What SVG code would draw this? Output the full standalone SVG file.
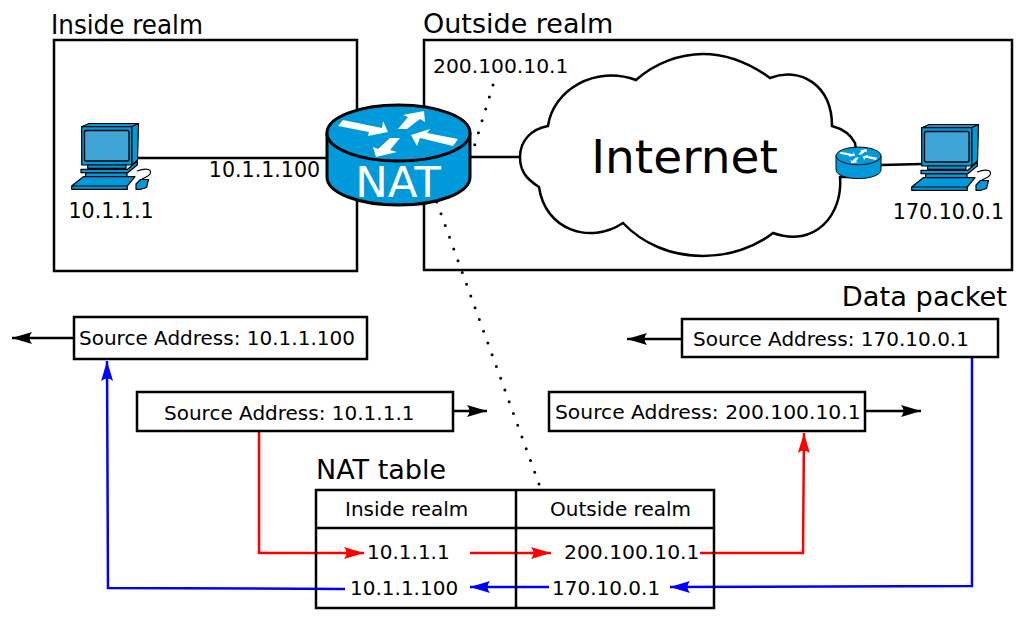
<svg xmlns="http://www.w3.org/2000/svg" width="1024" height="624" viewBox="0 0 1024 624">
<style>
text{font-family:"DejaVu Sans",sans-serif;fill:#000}
.h{font-size:27px}
.l{font-size:20px}
.w{font-size:20.300px}
.t{font-size:20.600px}
.box{fill:#fff;stroke:#000;stroke-width:2.500}
.c{fill:none;stroke-width:2.500}
.k{stroke:#000}.r{stroke:#f00}.b{stroke:#00f}
.dot{fill:none;stroke:#000;stroke-width:3;stroke-linecap:round;stroke-dasharray:0 12.500}
.blue{fill:#0099d9;stroke:#000;stroke-linejoin:round}
</style>
<defs>
<marker id="ak" markerUnits="userSpaceOnUse" markerWidth="24" markerHeight="16" refX="20" refY="8" orient="auto"><path d="M0 2L20 8L0 14Q5 8 0 2Z" fill="#000"/></marker>
<marker id="ar" markerUnits="userSpaceOnUse" markerWidth="24" markerHeight="16" refX="20" refY="8" orient="auto"><path d="M0 2L20 8L0 14Q5 8 0 2Z" fill="#f00"/></marker>
<marker id="ab" markerUnits="userSpaceOnUse" markerWidth="24" markerHeight="16" refX="20" refY="8" orient="auto"><path d="M0 2L20 8L0 14Q5 8 0 2Z" fill="#00f"/></marker>
<g id="pc" stroke-width="1.200">
<path d="M137 171C148 167 152 170 150 174C148 177 143 178 141 180" fill="none" stroke="#000" stroke-width="1.200"/>
<path class="blue" d="M81.700 126.700L89 123.500H138.500L131.700 126.700Z"/>
<path class="blue" d="M131.700 126.700L138.500 123.500L137.500 160L131.700 165Z"/>
<rect class="blue" x="81.700" y="126.700" width="50" height="38.300"/>
<rect x="84.500" y="130.500" width="44.500" height="30.500" rx="2" fill="#3fa5d6" stroke="#000" stroke-width="1.400"/>
<path class="blue" d="M87.700 165H126V168.300H87.700Z"/>
<path class="blue" d="M85.700 172.700H127V176.700H85.700Z"/>
<path class="blue" d="M81 169.300H127.700L137.300 161V165L127.700 172.700H81Z"/>
<path class="blue" d="M71.700 186L83.300 176.700H135L127.300 186V189.300H71.700Z"/>
<path class="blue" d="M71.700 186H127.300" fill="none"/>
<path class="blue" d="M136 189.300V184L140.500 179.500H148.500L146.500 187.500L141 189.300Z"/>
</g>
<g id="rt">
<path class="blue" d="M327 133V177C327 193 359 205 398.500 205C438 205 470 193 470 177V133Z"/>
<ellipse class="blue" cx="398.500" cy="133" rx="71.500" ry="28"/>
<g fill="#fff">
<path d="M343 120L382 128L383 121L388 132L368 136L369 132L338 126Z"/>
<path d="M398 129L408 117L403 115L424 111L425 122L420 119L407 129Z"/>
<path d="M458 139L453 146L420 138L417 146L411 135L430 129L427 133Z"/>
<path d="M400 138L390 150L397 152L376 157L373 147L378 149L390 138Z"/>
</g>
</g>
</defs>
<g id="realm-inside"><rect class="box" x="54" y="40" width="303" height="231"/><text class="h" x="51" y="34" textLength="152" lengthAdjust="spacingAndGlyphs">Inside realm</text></g>
<g id="realm-outside"><rect class="box" x="424" y="40" width="588" height="230"/><text class="h" x="423" y="33">Outside realm</text></g>
<g id="connectors">
<path class="c k" d="M132 158H327"/>
<path class="c k" d="M470 157H520"/>
<path class="c k" d="M881 165L922 164"/>
<path class="dot" d="M493 85L474.700 145"/>
<path class="dot" d="M539 484L436 200"/>
<path class="c k" d="M74 338H12" marker-end="url(#ak)"/>
<path class="c k" d="M453 411H487" marker-end="url(#ak)"/>
<path class="c k" d="M682 339H627" marker-end="url(#ak)"/>
<path class="c k" d="M865 411H921" marker-end="url(#ak)"/>
<path class="c r" d="M259 431V553H364" marker-end="url(#ar)"/>
<path class="c r" d="M470 553H551" marker-end="url(#ar)"/>
<path class="c r" d="M700 553H803L804 433" marker-end="url(#ar)"/>
<path class="c b" d="M972 357V586L670 587" marker-end="url(#ab)"/>
<path class="c b" d="M549 587H470" marker-end="url(#ab)"/>
<path class="c b" d="M345 589L108 588L107 361" marker-end="url(#ab)"/>
</g>
<g id="cloud"><path d="M636 80C655 63 680 54 703 54C730 54 752 65 770 78C800 66 832 85 832 126C843 129 851 135 855 143L860 177H840C843 215 815 248 773 233C755 247 730 256 703 256C670 256 642 243 623 223C590 245 545 230 539 187C525 178 520 170 520 157C520 140 532 129 548 126C553 90 595 65 636 80Z" fill="#fff" stroke="#000" stroke-width="2.500"/><text x="684.500" y="173" font-size="47" text-anchor="middle">Internet</text></g>
<g id="host-a"><use href="#pc"/><text class="t" x="111" y="218" text-anchor="middle">10.1.1.1</text></g>
<g id="host-b"><use href="#pc" x="840" y="1"/><text class="t" x="948.500" y="219" text-anchor="middle">170.10.0.1</text></g>
<g id="router-small"><use href="#rt" transform="translate(733 114) scale(.315)" stroke-width="3"/></g>
<g id="nat"><use href="#rt" stroke-width="3"/><text x="398" y="197" font-size="43.500" text-anchor="middle" style="fill:#fff">NAT</text></g>
<g id="labels"><text class="t" x="264.500" y="176.500" text-anchor="middle">10.1.1.100</text><text class="w" x="433" y="73">200.100.10.1</text><text class="h" x="1007" y="306" text-anchor="end" style="font-size:27.300px">Data packet</text></g>
<g id="packet-1"><rect class="box" x="74" y="317" width="293" height="42"/><text class="l" x="79" y="345">Source Address: 10.1.1.100</text></g>
<g id="packet-2"><rect class="box" x="137" y="392" width="316" height="39"/><text class="l" x="164" y="420">Source Address: 10.1.1.1</text></g>
<g id="packet-3"><rect class="box" x="682" y="319" width="316" height="38"/><text class="l" x="693" y="346">Source Address: 170.10.0.1</text></g>
<g id="packet-4"><rect class="box" x="549" y="392" width="316" height="39"/><text class="w" x="555" y="419">Source Address: 200.100.10.1</text></g>
<g id="nat-table"><text class="h" x="316" y="479">NAT table</text>
<path d="M316 490H714V608H316Z" fill="none" stroke="#000" stroke-width="2.500"/>
<path d="M316 528H714M516 490V608" fill="none" stroke="#000" stroke-width="2.500"/>
<text class="l" x="345" y="516">Inside realm</text><text class="l" x="550" y="516">Outside realm</text>
<text class="l" x="367" y="559">10.1.1.1</text><text class="w" x="564" y="559">200.100.10.1</text>
<text class="l" x="350" y="595">10.1.1.100</text><text class="l" x="552" y="595">170.10.0.1</text></g>
</svg>
